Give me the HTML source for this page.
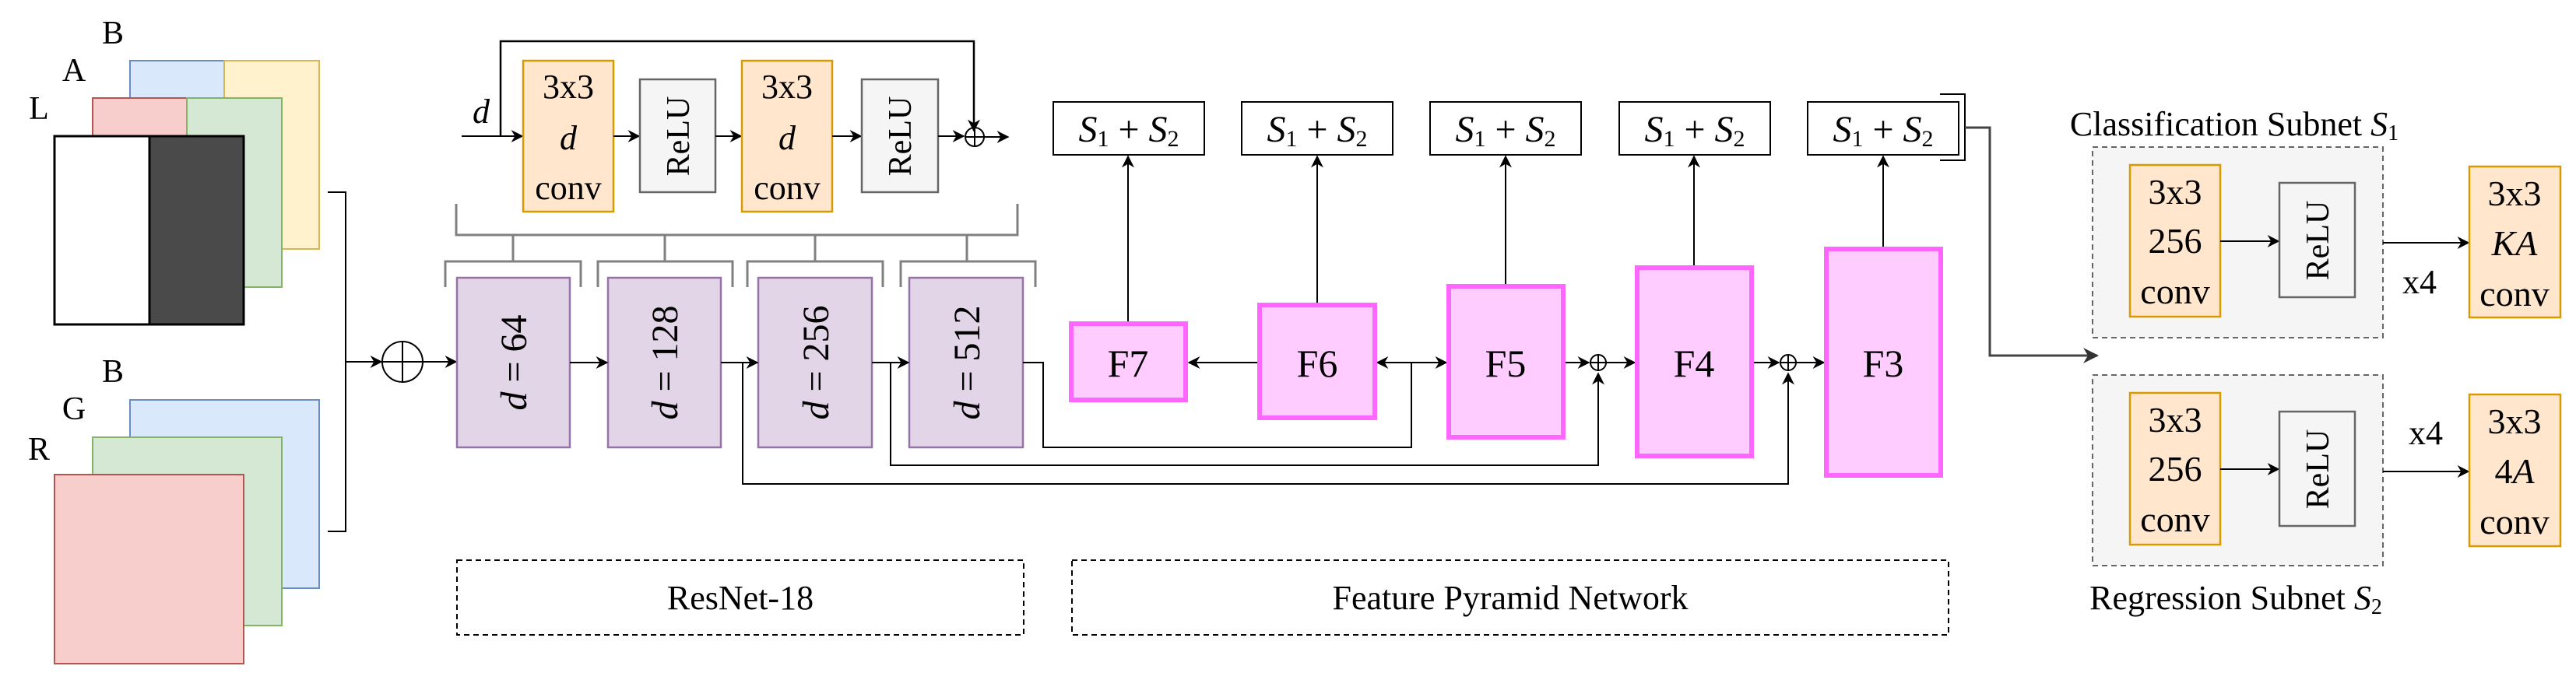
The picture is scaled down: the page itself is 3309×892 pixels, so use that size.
<!DOCTYPE html>
<html><head><meta charset="utf-8"><style>
html,body{margin:0;padding:0;background:#fff}
svg{display:block}
svg text{font-family:"Liberation Serif","DejaVu Serif",serif;fill:#000}
</style></head><body>
<svg width="3309" height="892" viewBox="0 0 3309 892" xmlns="http://www.w3.org/2000/svg" font-family="Liberation Serif, DejaVu Serif, serif">
<defs>
<marker id="ah" viewBox="0 0 10 10" markerWidth="16" markerHeight="16" refX="9" refY="5" orient="auto-start-reverse" markerUnits="userSpaceOnUse"><path d="M0,0 L10,5 L0,10 L3,5 z" fill="#000"/></marker>
<marker id="ag" viewBox="0 0 10 10" markerWidth="20" markerHeight="20" refX="9" refY="5" orient="auto" markerUnits="userSpaceOnUse"><path d="M0,0 L10,5 L0,10 L3,5 z" fill="#333"/></marker>
</defs>
<rect x="167" y="78" width="121" height="242" fill="#dae8fc" stroke="#6c8ebf" stroke-width="2"/>
<rect x="288" y="78" width="122" height="242" fill="#fff2cc" stroke="#d6b656" stroke-width="2"/>
<rect x="119" y="126" width="121" height="243" fill="#f8cecc" stroke="#b85450" stroke-width="2"/>
<rect x="240" y="126" width="122" height="243" fill="#d5e8d4" stroke="#82b366" stroke-width="2"/>
<rect x="70" y="175" width="122" height="242" fill="#fff" stroke="#000" stroke-width="3"/>
<rect x="192" y="175" width="121" height="242" fill="#4a4a4a" stroke="#000" stroke-width="3"/>
<text x="145" y="56" font-size="42" text-anchor="middle">B</text>
<text x="95" y="104" font-size="42" text-anchor="middle">A</text>
<text x="50" y="153" font-size="42" text-anchor="middle">L</text>
<rect x="167" y="514" width="243" height="242" fill="#dae8fc" stroke="#6c8ebf" stroke-width="2"/>
<rect x="119" y="562" width="243" height="242" fill="#d5e8d4" stroke="#82b366" stroke-width="2"/>
<rect x="70" y="610" width="243" height="243" fill="#f8cecc" stroke="#b85450" stroke-width="2"/>
<text x="145" y="491" font-size="42" text-anchor="middle">B</text>
<text x="95" y="539" font-size="42" text-anchor="middle">G</text>
<text x="50" y="591" font-size="42" text-anchor="middle">R</text>
<polyline points="421,247 444,247 444,683 421,683" fill="none" stroke="#000" stroke-width="2"/>
<line x1="444" y1="465" x2="490" y2="465" stroke="#000" stroke-width="2" marker-end="url(#ah)"/>
<circle cx="517" cy="465" r="26" fill="none" stroke="#000" stroke-width="2"/>
<line x1="491" y1="465" x2="543" y2="465" stroke="#000" stroke-width="2"/>
<line x1="517" y1="439" x2="517" y2="491" stroke="#000" stroke-width="2"/>
<line x1="543" y1="465" x2="586" y2="465" stroke="#000" stroke-width="2" marker-end="url(#ah)"/>
<polyline points="643,175 643,53 1251,53 1251,168" fill="none" stroke="#000" stroke-width="2.5" marker-end="url(#ah)"/>
<text x="618" y="158" font-size="44" font-style="italic" text-anchor="middle">d</text>
<line x1="593" y1="175" x2="671" y2="175" stroke="#000" stroke-width="2" marker-end="url(#ah)"/>
<rect x="672" y="78" width="116" height="194" fill="#ffe6cc" stroke="#d79b00" stroke-width="2.5"/>
<text x="730" y="126" font-size="44" text-anchor="middle">3x3</text>
<text x="730" y="192" font-size="44" font-style="italic" text-anchor="middle">d</text>
<text x="730" y="256" font-size="44" text-anchor="middle">conv</text>
<line x1="788" y1="175" x2="821" y2="175" stroke="#000" stroke-width="2" marker-end="url(#ah)"/>
<rect x="822" y="102" width="97" height="145" fill="#f5f5f5" stroke="#666" stroke-width="2.5"/>
<text transform="translate(885,175) rotate(-90)" font-size="42" text-anchor="middle">ReLU</text>
<line x1="919" y1="175" x2="952" y2="175" stroke="#000" stroke-width="2" marker-end="url(#ah)"/>
<rect x="953" y="78" width="116" height="194" fill="#ffe6cc" stroke="#d79b00" stroke-width="2.5"/>
<text x="1011" y="126" font-size="44" text-anchor="middle">3x3</text>
<text x="1011" y="192" font-size="44" font-style="italic" text-anchor="middle">d</text>
<text x="1011" y="256" font-size="44" text-anchor="middle">conv</text>
<line x1="1069" y1="175" x2="1106" y2="175" stroke="#000" stroke-width="2" marker-end="url(#ah)"/>
<rect x="1107" y="102" width="98" height="145" fill="#f5f5f5" stroke="#666" stroke-width="2.5"/>
<text transform="translate(1170,175) rotate(-90)" font-size="42" text-anchor="middle">ReLU</text>
<line x1="1205" y1="175" x2="1238" y2="175" stroke="#000" stroke-width="2" marker-end="url(#ah)"/>
<circle cx="1252" cy="176" r="12" fill="none" stroke="#000" stroke-width="2"/>
<line x1="1240" y1="176" x2="1264" y2="176" stroke="#000" stroke-width="2"/>
<line x1="1252" y1="164" x2="1252" y2="188" stroke="#000" stroke-width="2"/>
<line x1="1264" y1="176" x2="1295" y2="176" stroke="#000" stroke-width="2" marker-end="url(#ah)"/>
<g stroke="#808080" stroke-width="3" fill="none">
<polyline points="586,262 586,302 1307,302 1307,262"/>
<line x1="659" y1="302" x2="659" y2="336"/>
<line x1="854" y1="302" x2="854" y2="336"/>
<line x1="1047" y1="302" x2="1047" y2="336"/>
<line x1="1242" y1="302" x2="1242" y2="336"/>
<polyline points="572,369 572,336 746,336 746,369"/>
<polyline points="768,369 768,336 941,336 941,369"/>
<polyline points="960,369 960,336 1134,336 1134,369"/>
<polyline points="1157,369 1157,336 1330,336 1330,369"/>
</g>
<g fill="#e1d5e7" stroke="#9673a6" stroke-width="2.5">
<rect x="587" y="357" width="145" height="218"/>
<rect x="781" y="357" width="145" height="218"/>
<rect x="974" y="357" width="146" height="218"/>
<rect x="1168" y="357" width="146" height="218"/>
</g>
<g font-size="48">
<text transform="translate(676,466) rotate(-90)" text-anchor="middle"><tspan font-style="italic">d</tspan> = 64</text>
<text transform="translate(870,466) rotate(-90)" text-anchor="middle"><tspan font-style="italic">d</tspan> = 128</text>
<text transform="translate(1064,466) rotate(-90)" text-anchor="middle"><tspan font-style="italic">d</tspan> = 256</text>
<text transform="translate(1258,466) rotate(-90)" text-anchor="middle"><tspan font-style="italic">d</tspan> = 512</text>
</g>
<g stroke="#000" stroke-width="2" fill="none">
<line x1="732" y1="466" x2="780" y2="466" marker-end="url(#ah)"/>
<line x1="926" y1="466" x2="973" y2="466" marker-end="url(#ah)"/>
<line x1="1120" y1="466" x2="1167" y2="466" marker-end="url(#ah)"/>
<polyline points="954,466 954,622 2297,622 2297,480" marker-end="url(#ah)"/>
<polyline points="1144,466 1144,598 2053,598 2053,480" marker-end="url(#ah)"/>
<polyline points="1314,466 1340,466 1340,575 1813,575 1813,466"/>
<line x1="1813" y1="466" x2="1769" y2="466" marker-end="url(#ah)"/>
<line x1="1813" y1="466" x2="1858" y2="466" marker-end="url(#ah)"/>
<line x1="1616" y1="466" x2="1527" y2="466" marker-end="url(#ah)"/>
<line x1="2009" y1="466" x2="2041" y2="466" marker-end="url(#ah)"/>
<line x1="2063" y1="466" x2="2100" y2="466" marker-end="url(#ah)"/>
<line x1="2251" y1="466" x2="2285" y2="466" marker-end="url(#ah)"/>
<line x1="2307" y1="466" x2="2343" y2="466" marker-end="url(#ah)"/>
<circle cx="2053" cy="466" r="10"/>
<line x1="2043" y1="466" x2="2063" y2="466"/><line x1="2053" y1="456" x2="2053" y2="476"/>
<circle cx="2297" cy="466" r="10"/>
<line x1="2287" y1="466" x2="2307" y2="466"/><line x1="2297" y1="456" x2="2297" y2="476"/>
<line x1="1449" y1="415" x2="1449" y2="201" marker-end="url(#ah)"/>
<line x1="1692" y1="391" x2="1692" y2="201" marker-end="url(#ah)"/>
<line x1="1934" y1="367" x2="1934" y2="201" marker-end="url(#ah)"/>
<line x1="2176" y1="343" x2="2176" y2="201" marker-end="url(#ah)"/>
<line x1="2419" y1="319" x2="2419" y2="201" marker-end="url(#ah)"/>
</g>
<g fill="#ffccff" stroke="#ff66ff" stroke-width="6">
<rect x="1376" y="416" width="147" height="98"/>
<rect x="1618" y="392" width="148" height="145"/>
<rect x="1861" y="368" width="147" height="194"/>
<rect x="2103" y="344" width="147" height="242"/>
<rect x="2346" y="320" width="147" height="291"/>
</g>
<g font-size="50" text-anchor="middle">
<text x="1449" y="484">F7</text>
<text x="1692" y="484">F6</text>
<text x="1934" y="484">F5</text>
<text x="2176" y="484">F4</text>
<text x="2419" y="484">F3</text>
</g>
<g fill="#fff" stroke="#000" stroke-width="2">
<rect x="1353" y="131" width="194" height="68"/>
<rect x="1595" y="131" width="194" height="68"/>
<rect x="1837" y="131" width="194" height="68"/>
<rect x="2080" y="131" width="194" height="68"/>
<rect x="2322" y="131" width="194" height="68"/>
</g>
<polyline points="2492,121 2524,121 2524,206 2492,206" fill="none" stroke="#000" stroke-width="2"/>
<g font-size="48" text-anchor="middle">
<text x="1450" y="182"><tspan font-style="italic">S</tspan><tspan font-size="30" dy="6">1</tspan><tspan dy="-6"> + </tspan><tspan font-style="italic">S</tspan><tspan font-size="30" dy="6">2</tspan></text>
<text x="1692" y="182"><tspan font-style="italic">S</tspan><tspan font-size="30" dy="6">1</tspan><tspan dy="-6"> + </tspan><tspan font-style="italic">S</tspan><tspan font-size="30" dy="6">2</tspan></text>
<text x="1934" y="182"><tspan font-style="italic">S</tspan><tspan font-size="30" dy="6">1</tspan><tspan dy="-6"> + </tspan><tspan font-style="italic">S</tspan><tspan font-size="30" dy="6">2</tspan></text>
<text x="2177" y="182"><tspan font-style="italic">S</tspan><tspan font-size="30" dy="6">1</tspan><tspan dy="-6"> + </tspan><tspan font-style="italic">S</tspan><tspan font-size="30" dy="6">2</tspan></text>
<text x="2419" y="182"><tspan font-style="italic">S</tspan><tspan font-size="30" dy="6">1</tspan><tspan dy="-6"> + </tspan><tspan font-style="italic">S</tspan><tspan font-size="30" dy="6">2</tspan></text>
</g>
<polyline points="2524,164 2556,164 2556,457 2694,457" fill="none" stroke="#444" stroke-width="3" marker-end="url(#ag)"/>
<rect x="587" y="720" width="728" height="96" fill="none" stroke="#000" stroke-width="2" stroke-dasharray="7,5"/>
<text x="951" y="783" font-size="44" text-anchor="middle">ResNet-18</text>
<rect x="1377" y="720" width="1126" height="96" fill="none" stroke="#000" stroke-width="2" stroke-dasharray="7,5"/>
<text x="1940" y="783" font-size="44" text-anchor="middle">Feature Pyramid Network</text>
<text x="2870" y="174" font-size="44" text-anchor="middle">Classification Subnet <tspan font-style="italic">S</tspan><tspan font-size="28" dy="6">1</tspan></text>
<rect x="2688" y="189" width="373" height="245" fill="#f5f5f5" stroke="#666" stroke-width="2" stroke-dasharray="7,5"/>
<rect x="2736" y="212" width="116" height="195" fill="#ffe6cc" stroke="#d79b00" stroke-width="2.5"/>
<g font-size="46" text-anchor="middle">
<text x="2794" y="262">3x3</text><text x="2794" y="325">256</text><text x="2794" y="390">conv</text>
</g>
<line x1="2852" y1="310" x2="2927" y2="310" stroke="#000" stroke-width="2" marker-end="url(#ah)"/>
<rect x="2928" y="235" width="97" height="147" fill="#f5f5f5" stroke="#666" stroke-width="2.5"/>
<text transform="translate(2991,309) rotate(-90)" font-size="42" text-anchor="middle">ReLU</text>
<line x1="3061" y1="312" x2="3171" y2="312" stroke="#000" stroke-width="2" marker-end="url(#ah)"/>
<text x="3108" y="377" font-size="44" text-anchor="middle">x4</text>
<rect x="3172" y="214" width="117" height="194" fill="#ffe6cc" stroke="#d79b00" stroke-width="2.5"/>
<g font-size="46" text-anchor="middle">
<text x="3230" y="264">3x3</text><text x="3230" y="328" font-style="italic">KA</text><text x="3230" y="393">conv</text>
</g>
<rect x="2688" y="482" width="373" height="245" fill="#f5f5f5" stroke="#666" stroke-width="2" stroke-dasharray="7,5"/>
<rect x="2736" y="505" width="116" height="195" fill="#ffe6cc" stroke="#d79b00" stroke-width="2.5"/>
<g font-size="46" text-anchor="middle">
<text x="2794" y="555">3x3</text><text x="2794" y="618">256</text><text x="2794" y="683">conv</text>
</g>
<line x1="2852" y1="603" x2="2927" y2="603" stroke="#000" stroke-width="2" marker-end="url(#ah)"/>
<rect x="2928" y="529" width="97" height="147" fill="#f5f5f5" stroke="#666" stroke-width="2.5"/>
<text transform="translate(2991,603) rotate(-90)" font-size="42" text-anchor="middle">ReLU</text>
<line x1="3061" y1="606" x2="3171" y2="606" stroke="#000" stroke-width="2" marker-end="url(#ah)"/>
<text x="3116" y="571" font-size="44" text-anchor="middle">x4</text>
<rect x="3172" y="507" width="117" height="195" fill="#ffe6cc" stroke="#d79b00" stroke-width="2.5"/>
<g font-size="46" text-anchor="middle">
<text x="3230" y="557">3x3</text><text x="3230" y="621">4<tspan font-style="italic">A</tspan></text><text x="3230" y="686">conv</text>
</g>
<text x="2872" y="783" font-size="44" text-anchor="middle">Regression Subnet <tspan font-style="italic">S</tspan><tspan font-size="28" dy="6">2</tspan></text>
</svg>
</body></html>
